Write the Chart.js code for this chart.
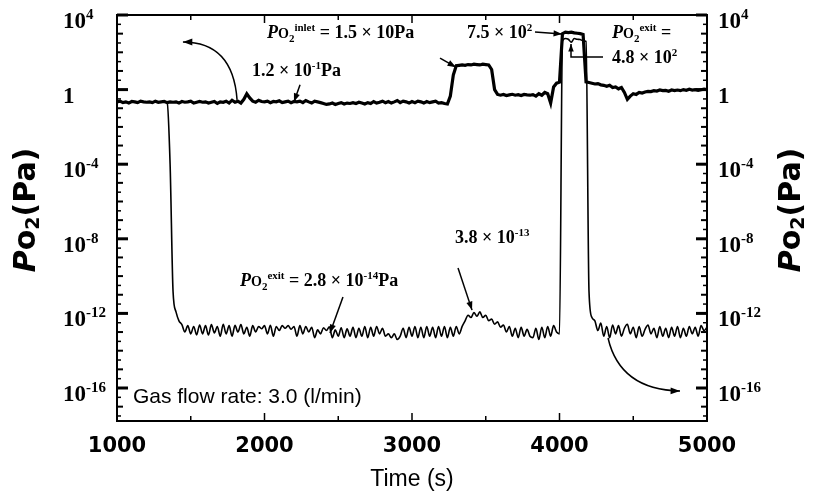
<!DOCTYPE html>
<html>
<head>
<meta charset="utf-8">
<script src="https://cdn.jsdelivr.net/npm/chart.js@4.4.1/dist/chart.umd.min.js"></script>
<style>
  html, body { margin: 0; padding: 0; background: #fff; }
  canvas { display: block; }
</style>
</head>
<body>
<canvas id="chart" width="814" height="497"></canvas>
<script>
// time axis (s)
const times = [
  1000,1020,1040,1060,1080,1100,1120,1140,1160,1180,
  1200,1220,1240,1260,1280,1300,1320,1340,1360,1380,
  1400,1420,1440,1460,1480,1500,1520,1540,1560,1580,
  1600,1620,1640,1660,1680,1700,1720,1740,1760,1780,
  1800,1820,1840,1860,1880,1900,1920,1940,1960,1980,
  2000,2020,2040,2060,2080,2100,2120,2140,2160,2180,
  2200,2220,2240,2260,2280,2300,2320,2340,2360,2380,
  2400,2420,2440,2460,2480,2500,2520,2540,2560,2580,
  2600,2620,2640,2660,2680,2700,2720,2740,2760,2780,
  2800,2820,2840,2860,2880,2900,2920,2940,2960,2980,
  3000,3020,3040,3060,3080,3100,3120,3140,3160,3180,
  3200,3220,3240,3260,3280,3300,3320,3340,3360,3380,
  3400,3420,3440,3460,3480,3500,3520,3540,3560,3580,
  3600,3620,3640,3660,3680,3700,3720,3740,3760,3780,
  3800,3820,3840,3860,3880,3900,3920,3940,3960,3980,
  4000,4020,4040,4060,4080,4100,4120,4140,4160,4180,
  4200,4220,4240,4260,4280,4300,4320,4340,4360,4380,
  4400,4420,4440,4460,4480,4500,4520,4540,4560,4580,
  4600,4620,4640,4660,4680,4700,4720,4740,4760,4780,
  4800,4820,4840,4860,4880,4900,4920,4940,4960,4980,
  5000
];

// Po2 at the inlet (Pa) - thick line
const inletPa = [
  0.22,0.24,0.2,0.22,0.19,0.23,0.22,0.2,0.24,0.22,
  0.21,0.22,0.2,0.24,0.21,0.22,0.23,0.2,0.22,0.21,
  0.22,0.19,0.23,0.21,0.22,0.24,0.19,0.21,0.23,0.21,
  0.22,0.19,0.21,0.23,0.18,0.22,0.21,0.24,0.19,0.27,
  0.21,0.24,0.19,0.3,0.6,0.36,0.24,0.21,0.27,0.23,
  0.22,0.24,0.2,0.23,0.22,0.25,0.2,0.22,0.24,0.2,
  0.23,0.22,0.24,0.2,0.26,0.22,0.19,0.24,0.22,0.2,
  0.18,0.16,0.17,0.19,0.16,0.18,0.2,0.17,0.19,0.18,
  0.2,0.18,0.21,0.19,0.17,0.2,0.18,0.23,0.19,0.21,
  0.24,0.2,0.23,0.19,0.22,0.26,0.2,0.24,0.22,0.19,
  0.23,0.2,0.24,0.22,0.19,0.23,0.2,0.22,0.24,0.19,
  0.2,0.18,0.17,0.45,6,19,20,21,20,22,
  21,23,22,21,23,22,21,12,1,0.55,
  0.5,0.55,0.48,0.52,0.56,0.5,0.53,0.48,0.55,0.52,
  0.5,0.54,0.45,0.6,0.5,0.7,0.6,0.19,1.4,2.2,
  2.5,1000,1200,1150,1200,1100,1050,1000,900,2.6,
  2.4,2.2,2,2.1,1.8,1.7,1.5,1.7,1.3,1.4,
  1.1,1.3,0.7,0.3,0.45,0.6,0.55,0.7,0.65,0.75,
  0.8,0.78,0.88,0.84,0.95,0.88,0.9,0.82,0.95,0.88,
  0.95,0.88,1,0.92,1.05,0.95,1,0.92,0.98,1.05,
  1
];

// Po2 at the exit (Pa) - thin line
const exitPa = [
  0.22,0.24,0.2,0.22,0.19,0.23,0.22,0.2,0.24,0.22,
  0.21,0.22,0.2,0.24,0.21,0.22,0.23,0.2,1e-4,1.5e-11,
  1.2e-12,4e-13,2.5e-13,1e-13,2.2e-13,8e-14,2e-13,7e-14,2.4e-13,8e-14,
  2.2e-13,7e-14,2.5e-13,9e-14,2e-13,6e-14,2.6e-13,8e-14,2.2e-13,6e-14,
  2.3e-13,1e-13,2.5e-13,8e-14,1.8e-13,6e-14,2.2e-13,1e-13,2e-13,1.5e-13,
  2.2e-13,8e-14,2.3e-13,6e-14,2e-13,1.2e-13,2.2e-13,1.6e-13,2.2e-13,1.4e-13,
  2e-13,6e-14,2.2e-13,8e-14,2e-13,1e-13,1.8e-13,5e-14,1.3e-13,8e-14,
  1.7e-13,1.2e-13,1.9e-13,5e-14,1.3e-13,6e-14,1.7e-13,5e-14,1.5e-13,6e-14,
  1.8e-13,5e-14,1.6e-13,6e-14,2e-13,5e-14,1.8e-13,6e-14,2e-13,8e-14,
  1.6e-13,6e-14,8e-14,5e-14,8e-14,4e-14,6e-14,1.6e-13,5e-14,1.8e-13,
  6e-14,2e-13,5e-14,1.8e-13,5e-14,2e-13,6e-14,1.8e-13,5e-14,2e-13,
  6e-14,2e-13,5e-14,1.8e-13,6e-14,2e-13,8e-14,2e-13,4e-13,8e-13,
  6e-13,1.1e-12,7e-13,1.2e-12,6e-13,8e-13,4e-13,5e-13,2.6e-13,3.5e-13,
  1.8e-13,2.4e-13,1e-13,2e-13,6e-14,1.6e-13,5e-14,1.8e-13,6e-14,1.4e-13,
  6e-14,5e-14,1.6e-13,4e-14,1.8e-13,5e-14,2e-13,6e-14,2.2e-13,1e-13,
  8e-14,400,550,500,350,550,500,480,420,380,
  1.5e-11,6e-13,4e-13,1.2e-13,3e-13,6e-14,2e-13,5e-14,2.4e-13,8e-14,
  2.2e-13,6e-14,1.6e-13,2.6e-13,8e-14,1.8e-13,5e-14,2e-13,6e-14,1.4e-13,
  2.4e-13,8e-14,1.6e-13,5e-14,2e-13,6e-14,1.6e-13,5e-14,1.8e-13,6e-14,
  2e-13,5e-14,1.6e-13,6e-14,2e-13,8e-14,1.8e-13,6e-14,2.2e-13,1.2e-13,
  1.8e-13
];

// ticks
const xTicks = [1000, 2000, 3000, 4000, 5000];
const xMinorTicks = [1500, 2500, 3500, 4500];
const yTickExp = [4, 0, -4, -8, -12, -16];
const yMin = 1.7e-18;
const yMax = 1e4;

// fonts
const SERIF = '"Liberation Serif", "Times New Roman", serif';
const SANS = '"Liberation Sans", Arial, sans-serif';
const VERD = '"DejaVu Sans", Verdana, sans-serif';
const big = 'bold 18px ' + SERIF;
const bigI = 'italic bold 18px ' + SERIF;
const mid = 'bold 14px ' + SERIF;
const small = 'bold 11px ' + SERIF;

function partsWidth(ctx, parts) {
    let w = 0;
    parts.forEach(p => { ctx.font = p[1]; w += ctx.measureText(p[0]).width; });
    return w;
}

function drawParts(ctx, x, y, parts, align) {
    if (align === 'center') x -= partsWidth(ctx, parts) / 2;
    parts.forEach(p => {
        ctx.font = p[1];
        ctx.fillText(p[0], x, y + (p[2] || 0));
        x += ctx.measureText(p[0]).width;
    });
}

function arrowHead(ctx, x, y, fromX, fromY, size) {
    let ang = Math.atan2(y - fromY, x - fromX);
    ctx.beginPath();
    ctx.moveTo(x, y);
    ctx.lineTo(x - size * Math.cos(ang - 0.35), y - size * Math.sin(ang - 0.35));
    ctx.lineTo(x - size * Math.cos(ang + 0.35), y - size * Math.sin(ang + 0.35));
    ctx.closePath();
    ctx.fill();
}

function arrow(ctx, a, b) {
    ctx.beginPath();
    ctx.moveTo(a[0], a[1]);
    ctx.lineTo(b[0], b[1]);
    ctx.stroke();
    arrowHead(ctx, b[0], b[1], a[0], a[1], 9);
}

function curveArrow(ctx, a, c, b) {
    ctx.beginPath();
    ctx.moveTo(a[0], a[1]);
    ctx.quadraticCurveTo(c[0], c[1], b[0], b[1]);
    ctx.stroke();
    arrowHead(ctx, b[0], b[1], c[0], c[1], 10);
}

const framePlugin = {
    id: 'frame',
    afterDraw(chart) {
        const ctx = chart.ctx;
        const a = chart.chartArea;
        const xs = chart.scales.x;
        const ys = chart.scales.y;
        const P = (t, v) => [xs.getPixelForValue(t), ys.getPixelForValue(v)];
        const line = (x0, y0, x1, y1) => { ctx.beginPath(); ctx.moveTo(x0, y0); ctx.lineTo(x1, y1); ctx.stroke(); };

        ctx.save();
        ctx.strokeStyle = '#000';
        ctx.fillStyle = '#000';

        // frame
        ctx.lineWidth = 2;
        ctx.strokeRect(a.left, a.top, a.right - a.left, a.bottom - a.top);

        // x ticks (inward, top and bottom)
        ctx.lineWidth = 1.5;
        xTicks.forEach(t => {
            let x = xs.getPixelForValue(t);
            line(x, a.bottom, x, a.bottom - 8);
            line(x, a.top, x, a.top + 8);
        });
        xMinorTicks.forEach(t => {
            let x = xs.getPixelForValue(t);
            line(x, a.bottom, x, a.bottom - 5);
            line(x, a.top, x, a.top + 5);
        });

        // y ticks (inward, left and right)
        for (let e = 4; e >= -17; e--) {
            let y = ys.getPixelForValue(Math.pow(10, e));
            let len = yTickExp.includes(e) ? 11 : 6;
            ctx.lineWidth = yTickExp.includes(e) ? 3 : 2;
            line(a.left, y, a.left + len, y);
            line(a.right, y, a.right - len, y);
            let yh = ys.getPixelForValue(Math.pow(10, e - 0.5));
            if (yh < a.bottom) {
                ctx.lineWidth = 1.5;
                line(a.left, yh, a.left + 4, yh);
                line(a.right, yh, a.right - 4, yh);
            }
        }

        // y tick labels
        ctx.textAlign = 'left';
        ctx.textBaseline = 'alphabetic';
        const tickBig = 'bold 23px ' + SERIF;
        const tickSup = 'bold 15px ' + SERIF;
        yTickExp.forEach(e => {
            let y = ys.getPixelForValue(Math.pow(10, e)) + 13;
            let parts = e === 0 ? [['1', tickBig]] : [['10', tickBig], [String(e), tickSup, -9]];
            drawParts(ctx, a.left - 54, y, parts);
            drawParts(ctx, a.right + 11, y, parts);
        });

        // x tick labels
        ctx.font = 'bold 21px ' + VERD;
        ctx.textAlign = 'center';
        ctx.textBaseline = 'middle';
        xTicks.forEach(t => ctx.fillText(String(t), xs.getPixelForValue(t), a.bottom + 26));

        // x title
        ctx.font = '23px ' + SANS;
        ctx.fillText('Time (s)', (a.left + a.right) / 2, a.bottom + 59);

        // y titles (both sides)
        const titleParts = [
            ['P', 'italic bold 30px ' + VERD],
            ['o', 'bold 30px ' + VERD],
            ['2', 'bold 19px ' + VERD, 7],
            ['(Pa)', 'bold 30px ' + VERD]
        ];
        ctx.textAlign = 'left';
        ctx.textBaseline = 'middle';
        [27, 792].forEach(cx => {
            ctx.save();
            ctx.translate(cx, 210);
            ctx.rotate(-Math.PI / 2);
            drawParts(ctx, 0, 0, titleParts, 'center');
            ctx.restore();
        });

        // annotations
        ctx.textBaseline = 'alphabetic';
        ctx.lineWidth = 1.5;

        curveArrow(ctx, P(1814, 0.28), P(1786, 355), P(1447, 355));
        drawParts(ctx, ...P(1915, 5.4), [['1.2 × 10', big], ['-1', small, -7], ['Pa', big]]);
        arrow(ctx, P(2241, 1.8), P(2200, 0.22));

        drawParts(ctx, ...P(2017, 590), [['P', bigI], ['O', mid], ['2', small, 4], ['inlet', small, -7], [' = 1.5 × 10Pa', big]]);
        arrow(ctx, P(3190, 49), P(3298, 16));

        drawParts(ctx, ...P(3373, 590), [['7.5 × 10', big], ['2', small, -7]]);
        arrow(ctx, P(3834, 1230), P(4017, 955));

        drawParts(ctx, ...P(4356, 590), [['P', bigI], ['O', mid], ['2', small, 4], ['exit', small, -7], [' =', big]]);
        drawParts(ctx, ...P(4356, 27), [['4.8 × 10', big], ['2', small, -7]]);
        let e0 = P(4295, 56), e1 = P(4078, 56), e2 = P(4078, 280);
        ctx.beginPath();
        ctx.moveTo(e0[0], e0[1]);
        ctx.lineTo(e1[0], e1[1]);
        ctx.lineTo(e2[0], e2[1]);
        ctx.stroke();
        arrowHead(ctx, e2[0], e2[1], e1[0], e1[1], 8);

        drawParts(ctx, ...P(3292, 5.9e-9), [['3.8 × 10', big], ['-13', small, -7]]);
        arrow(ctx, P(3312, 2.7e-10), P(3407, 1.5e-12));

        drawParts(ctx, ...P(1834, 2.9e-11), [['P', bigI], ['O', mid], ['2', small, 4], ['exit', small, -7], [' = 2.8 × 10', big], ['-14', small, -7], ['Pa', big]]);
        arrow(ctx, P(2532, 7.6e-12), P(2444, 8.9e-14));

        curveArrow(ctx, P(4329, 4.8e-14), P(4410, 8e-17), P(4817, 6.9e-17));

        ctx.font = '21px ' + SANS;
        ctx.fillText('Gas flow rate: 3.0 (l/min)', ...P(1108, 1.6e-17));

        ctx.restore();
    }
};

const inletData = times.map((t, i) => ({ x: t, y: inletPa[i] }));
const exitData = times.map((t, i) => ({ x: t, y: exitPa[i] }));

new Chart(document.getElementById('chart'), {
    type: 'line',
    data: {
        datasets: [
            {
                label: 'Inlet',
                data: inletData,
                borderColor: '#000',
                borderWidth: 3.2,
                pointRadius: 0,
                tension: 0,
                fill: false
            },
            {
                label: 'Exit',
                data: exitData,
                borderColor: '#000',
                borderWidth: 1.6,
                pointRadius: 0,
                cubicInterpolationMode: 'monotone',
                fill: false
            }
        ]
    },
    options: {
        responsive: false,
        animation: false,
        layout: { padding: { left: 117, right: 107, top: 15, bottom: 76 } },
        plugins: { legend: { display: false }, tooltip: { enabled: false } },
        scales: {
            x: { type: 'linear', min: 1000, max: 5000, display: false },
            y: { type: 'logarithmic', min: yMin, max: yMax, display: false }
        }
    },
    plugins: [framePlugin]
});
</script>
</body>
</html>
